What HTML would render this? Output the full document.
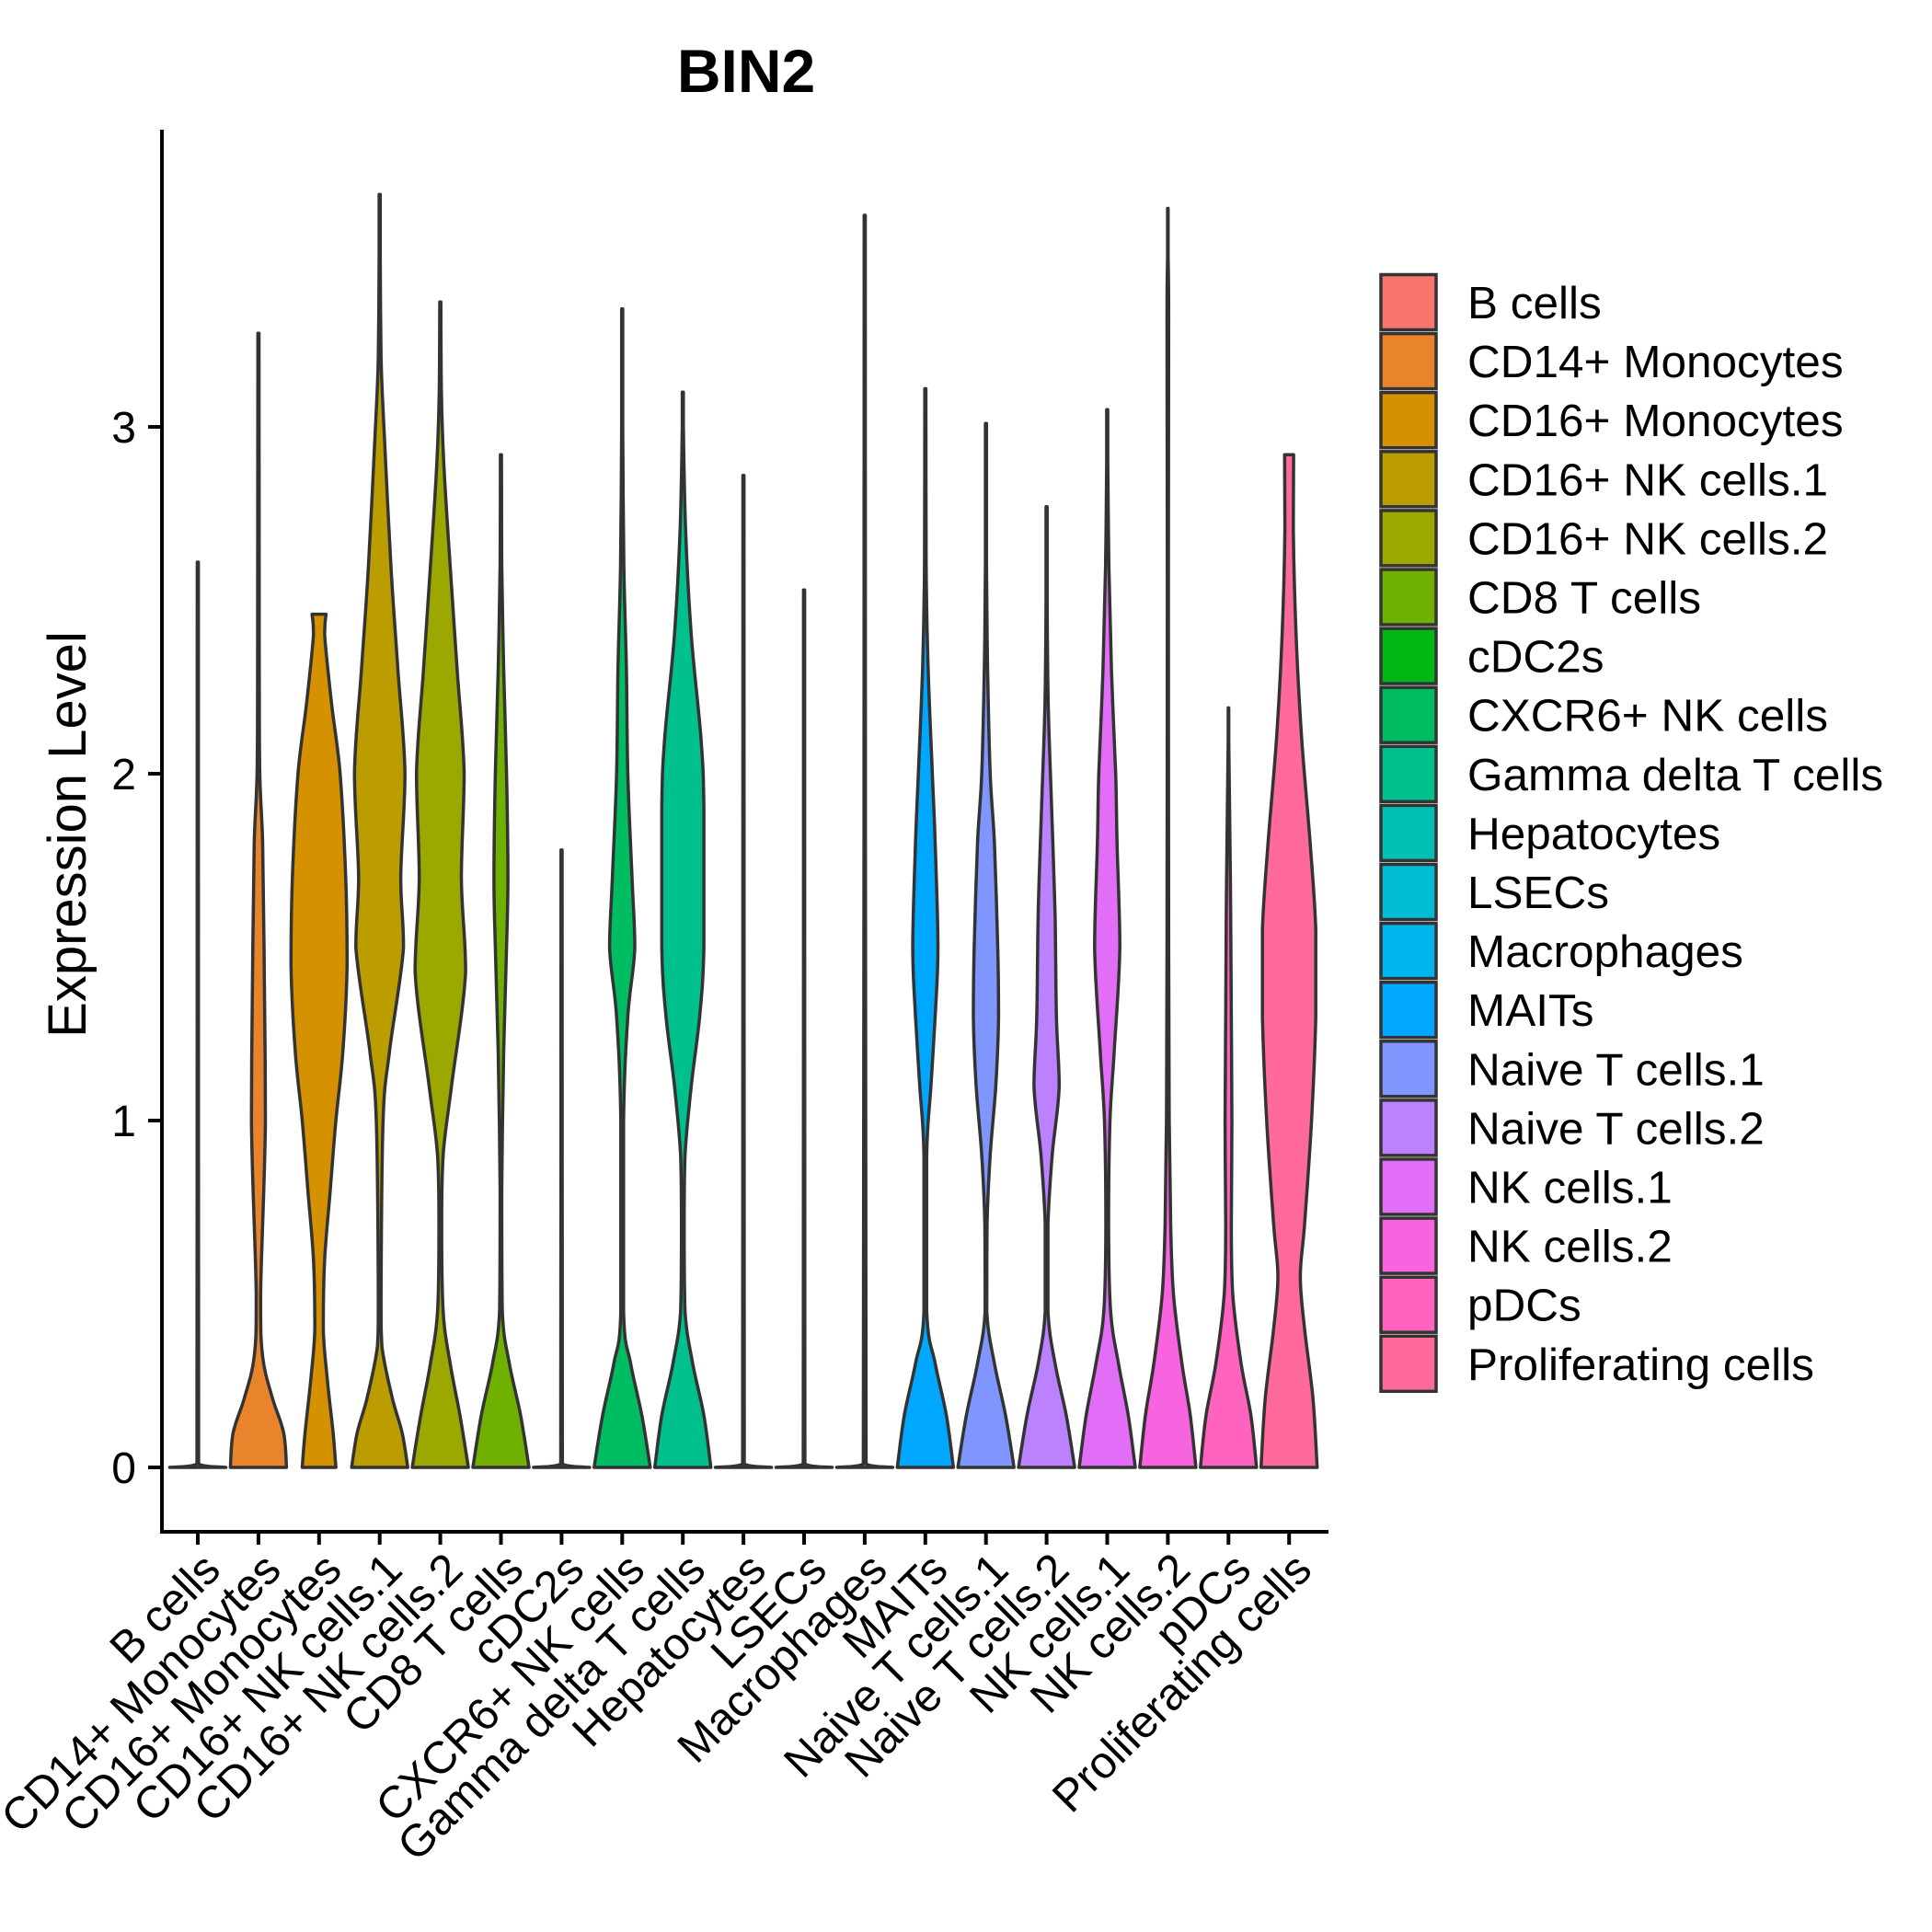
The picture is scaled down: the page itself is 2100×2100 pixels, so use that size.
<!DOCTYPE html>
<html><head><meta charset="utf-8"><style>
html,body{margin:0;padding:0;background:#fff;}
svg{display:block;font-family:"Liberation Sans",Arial,sans-serif;}
</style></head><body>
<svg id="chart" width="2100" height="2100" viewBox="0 0 2100 2100" xmlns="http://www.w3.org/2000/svg">
<text x="811" y="100" text-anchor="middle" font-size="66" font-weight="bold">BIN2</text>
<text transform="translate(93,907) rotate(-90)" text-anchor="middle" font-size="58">Expression Level</text>
<g id="violins"></g>
<g id="axes"></g>
<g id="legend"></g>
</svg>
<script>
const categories = ["B cells","CD14+ Monocytes","CD16+ Monocytes","CD16+ NK cells.1","CD16+ NK cells.2","CD8 T cells","cDC2s","CXCR6+ NK cells","Gamma delta T cells","Hepatocytes","LSECs","Macrophages","MAITs","Naive T cells.1","Naive T cells.2","NK cells.1","NK cells.2","pDCs","Proliferating cells"];
const colors = ["#F8766D","#E9842C","#D69100","#BC9D00","#9CA700","#6FB000","#00B813","#00BD61","#00C08E","#00C0B4","#00BDD4","#00B5EE","#00A7FF","#7F96FF","#BC81FF","#E26EF7","#F863DF","#FF62BF","#FF6A9A"];
const yTicks = [0,1,2,3];
// density profiles: [value, relative half-width]
const profiles = [
 [[0,1],[0.01,0.03],[2.61,0.02]],
 [[0,1],[0.1,0.9],[0.2,0.5],[0.32,0.15],[0.5,0.08],[1.0,0.25],[1.5,0.2],[1.8,0.15],[2.0,0.05],[2.3,0.03],[3.27,0.02]],
 [[0,0.6],[0.1,0.5],[0.25,0.3],[0.4,0.15],[0.6,0.2],[0.8,0.4],[1.0,0.6],[1.2,0.85],[1.45,1.0],[1.7,0.95],[2.0,0.75],[2.2,0.45],[2.4,0.2],[2.46,0.25]],
 [[0,1],[0.1,0.8],[0.2,0.45],[0.35,0.08],[0.5,0.05],[1.0,0.12],[1.2,0.35],[1.5,0.85],[1.7,0.75],[2.0,0.9],[2.3,0.65],[2.6,0.4],[3.0,0.15],[3.2,0.05],[3.5,0.02],[3.67,0.02]],
 [[0,1],[0.15,0.7],[0.3,0.35],[0.45,0.1],[0.7,0.05],[0.9,0.1],[1.1,0.4],[1.43,0.9],[1.7,0.75],[2.0,0.85],[2.3,0.6],[2.6,0.35],[2.9,0.12],[3.1,0.04],[3.36,0.02]],
 [[0,1],[0.15,0.7],[0.3,0.3],[0.45,0.05],[0.8,0.03],[1.2,0.1],[1.5,0.2],[1.7,0.25],[2.0,0.2],[2.3,0.1],[2.6,0.03],[2.92,0.02]],
 [[0,1],[0.01,0.03],[1.78,0.02]],
 [[0,1],[0.15,0.7],[0.3,0.3],[0.45,0.05],[1.0,0.05],[1.3,0.2],[1.5,0.45],[1.7,0.35],[2.0,0.2],[2.3,0.15],[2.6,0.06],[3.0,0.02],[3.34,0.02]],
 [[0,1],[0.15,0.75],[0.3,0.35],[0.45,0.08],[0.7,0.05],[0.9,0.08],[1.1,0.3],[1.3,0.6],[1.5,0.75],[1.9,0.75],[2.1,0.65],[2.4,0.3],[2.7,0.1],[3.0,0.02],[3.1,0.02]],
 [[0,1],[0.01,0.03],[2.86,0.02]],
 [[0,1],[0.01,0.03],[2.53,0.02]],
 [[0,1],[0.01,0.05],[3.61,0.02]],
 [[0,1],[0.15,0.75],[0.3,0.35],[0.45,0.05],[0.9,0.05],[1.1,0.2],[1.3,0.35],[1.5,0.45],[1.8,0.35],[2.0,0.25],[2.3,0.1],[2.6,0.03],[3.11,0.02]],
 [[0,1],[0.15,0.7],[0.3,0.3],[0.45,0.03],[0.7,0.04],[0.9,0.15],[1.1,0.35],[1.3,0.45],[1.5,0.42],[1.8,0.3],[2.0,0.15],[2.3,0.06],[2.6,0.02],[3.01,0.02]],
 [[0,1],[0.15,0.7],[0.3,0.3],[0.45,0.05],[0.7,0.05],[0.9,0.2],[1.1,0.45],[1.3,0.35],[1.6,0.3],[1.9,0.18],[2.2,0.06],[2.5,0.02],[2.77,0.02]],
 [[0,1],[0.15,0.75],[0.3,0.4],[0.45,0.12],[0.7,0.05],[1.0,0.1],[1.2,0.25],[1.5,0.45],[1.8,0.35],[2.0,0.3],[2.3,0.15],[2.6,0.06],[2.9,0.02],[3.05,0.02]],
 [[0,1],[0.15,0.8],[0.3,0.5],[0.5,0.2],[0.7,0.1],[1.0,0.05],[1.5,0.03],[2.5,0.02],[3.3,0.03],[3.5,0.01],[3.63,0.01]],
 [[0,1],[0.15,0.8],[0.3,0.45],[0.5,0.15],[0.7,0.1],[1.0,0.12],[1.3,0.1],[1.6,0.08],[1.9,0.04],[2.1,0.01],[2.19,0.01]],
 [[0,1],[0.2,0.85],[0.4,0.55],[0.55,0.4],[0.7,0.55],[1.0,0.8],[1.3,0.95],[1.55,0.95],[1.8,0.75],[2.1,0.45],[2.4,0.25],[2.7,0.15],[2.92,0.16]]
];
const NS="http://www.w3.org/2000/svg";
const x0=215, step=65.9, y0=1595, unit=377, hw=30.5;
function xScale(i){return x0+step*i;}
function yScale(v){return y0-unit*v;}
function mk(tag,attrs,parent){const e=document.createElementNS(NS,tag);for(const k in attrs)e.setAttribute(k,attrs[k]);parent.appendChild(e);return e;}
function clamp(v,a,b){const lo=Math.min(a,b),hi=Math.max(a,b);return Math.max(lo,Math.min(hi,v));}
function smoothSide(pts){
  let d="";
  for(let i=0;i<pts.length-1;i++){
    const p0=pts[Math.max(0,i-1)],p1=pts[i],p2=pts[i+1],p3=pts[Math.min(pts.length-1,i+2)];
    const c1=[clamp(p1[0]+(p2[0]-p0[0])/6,p1[0],p2[0]),clamp(p1[1]+(p2[1]-p0[1])/6,p1[1],p2[1])];
    const c2=[clamp(p2[0]-(p3[0]-p1[0])/6,p1[0],p2[0]),clamp(p2[1]-(p3[1]-p1[1])/6,p1[1],p2[1])];
    d+=` C${c1[0].toFixed(1)},${c1[1].toFixed(1)} ${c2[0].toFixed(1)},${c2[1].toFixed(1)} ${p2[0].toFixed(1)},${p2[1].toFixed(1)}`;
  }
  return d;
}
const vg=document.getElementById('violins');
profiles.forEach((prof,i)=>{
  const cx=xScale(i);
  const right=prof.map(p=>[cx+hw*p[1],yScale(p[0])]);
  const left=prof.slice().reverse().map(p=>[cx-hw*p[1],yScale(p[0])]);
  let d=`M${right[0][0].toFixed(1)},${right[0][1].toFixed(1)}`+smoothSide(right);
  d+=` L${left[0][0].toFixed(1)},${left[0][1].toFixed(1)}`+smoothSide(left)+" Z";
  const p=mk('path',{d:d,fill:colors[i],stroke:"#333333","stroke-width":3.5,"stroke-linejoin":"round"},vg);
  
  
});
const ag=document.getElementById('axes');
const yl=mk('line',{x1:176,y1:141,x2:176,y2:1667,stroke:"#000","stroke-width":4},ag);


const xl=mk('line',{x1:174,y1:1665,x2:1444,y2:1665,stroke:"#000","stroke-width":4},ag);


yTicks.forEach(v=>{
  const y=yScale(v);
  const t=mk('line',{x1:161,y1:y,x2:176,y2:y,stroke:"#000","stroke-width":4},ag);
  
  
  const lb=mk('text',{x:148,y:y+17,"text-anchor":"end","font-size":48},ag);
  lb.textContent=String(v);
  
  
});
categories.forEach((c,i)=>{
  const x=xScale(i);
  const t=mk('line',{x1:x,y1:1665,x2:x,y2:1679,stroke:"#000","stroke-width":4},ag);
  
  
  const lb=mk('text',{x:0,y:0,dy:"0.72em","text-anchor":"end","font-size":49,transform:`translate(${x+2},${1684}) rotate(-45)`},ag);
  lb.textContent=c;
  
  
});
const lg=document.getElementById('legend');
categories.forEach((c,i)=>{
  const top=297+64.1*i;
  const r=mk('rect',{x:1501,y:top+1.5,width:60,height:60,fill:colors[i],stroke:"#333333","stroke-width":3.5},lg);
  
  
  const t=mk('text',{x:1595,y:top+49,"font-size":49.5},lg);
  t.textContent=c;
  
  
});
</script>
</body></html>
